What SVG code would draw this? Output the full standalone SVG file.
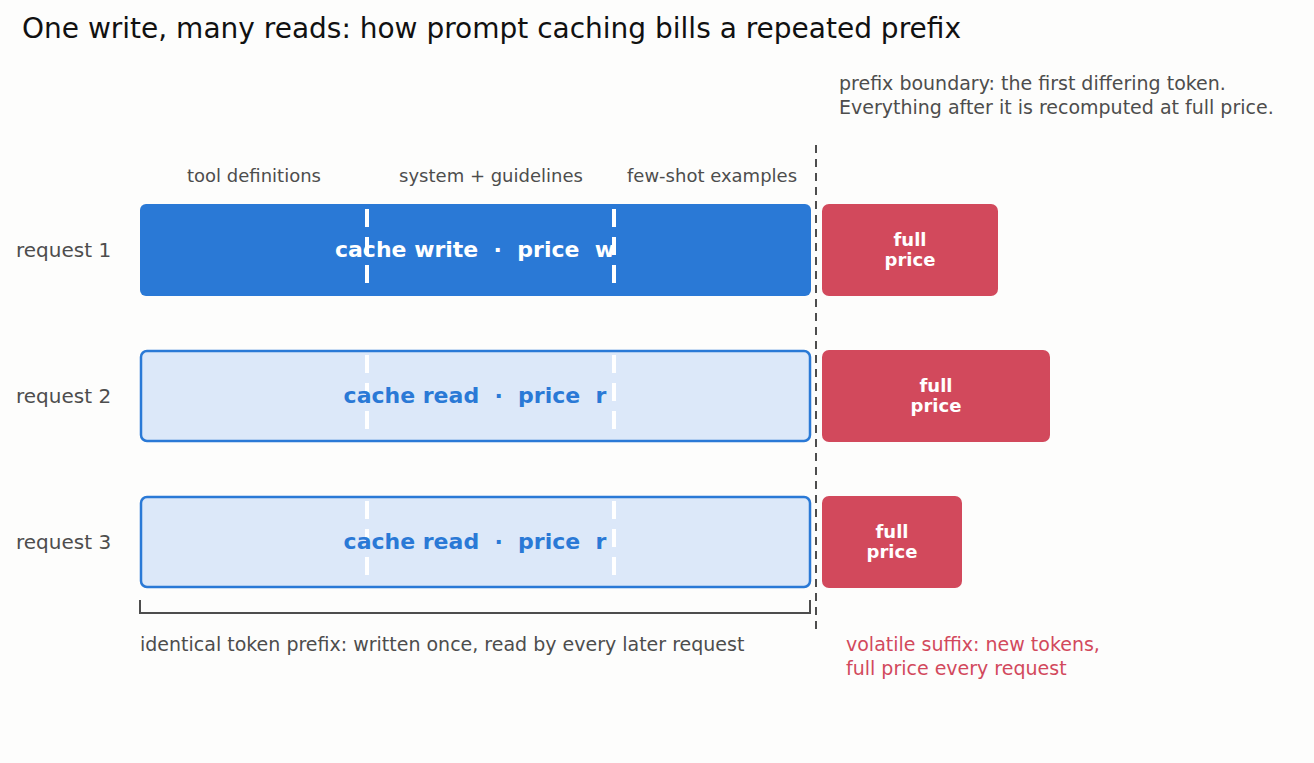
<svg xmlns="http://www.w3.org/2000/svg" width="1314" height="763" viewBox="0 0 1314 763">
<style>
text{font-family:"DejaVu Sans",sans-serif}
.lbl{fill:#4d4d4d;font-size:20px}
.col{fill:#4d4d4d;font-size:18px;text-anchor:middle}
.note{fill:#4d4d4d;font-size:19px}
.red{fill:#d2495c;font-size:19px}
.sep{stroke:#fff;stroke-width:4;stroke-dasharray:18 10}
.light{fill:#dce8f9;stroke:#2a79d6;stroke-width:2.5}
.sfx{fill:#d2495c}
.sfxt{fill:#fff;font-size:18px;font-weight:bold;text-anchor:middle}
.bt{font-size:22px;font-weight:bold;text-anchor:middle}
</style>
<rect width="1314" height="763" fill="#fdfdfc"/>
<text x="22" y="38" font-size="28" fill="#111">One write, many reads: how prompt caching bills a repeated prefix</text>
<text class="note" x="839" y="90">prefix boundary: the first differing token.</text>
<text class="note" x="839" y="114">Everything after it is recomputed at full price.</text>
<text class="col" x="254" y="182">tool definitions</text>
<text class="col" x="491" y="182">system + guidelines</text>
<text class="col" x="712" y="182">few-shot examples</text>
<g id="r1"><text class="lbl" x="16" y="257">request 1</text>
<rect x="140" y="204" width="671" height="92" rx="6" fill="#2a79d6"/>
<line class="sep" x1="367" y1="209" x2="367" y2="292"/><line class="sep" x1="614" y1="209" x2="614" y2="292"/>
<text class="bt" x="475" y="257" fill="#fff" xml:space="preserve">cache write  ·  price  w</text></g>
<g id="r2"><text class="lbl" x="16" y="403">request 2</text>
<rect class="light" x="141" y="351" width="669" height="90" rx="6"/>
<line class="sep" x1="367" y1="355" x2="367" y2="438"/><line class="sep" x1="614" y1="355" x2="614" y2="438"/>
<text class="bt" x="475" y="403" fill="#2a79d6" xml:space="preserve">cache read  ·  price  r</text></g>
<g id="r3"><text class="lbl" x="16" y="549">request 3</text>
<rect class="light" x="141" y="497" width="669" height="90" rx="6"/>
<line class="sep" x1="367" y1="501" x2="367" y2="584"/><line class="sep" x1="614" y1="501" x2="614" y2="584"/>
<text class="bt" x="475" y="549" fill="#2a79d6" xml:space="preserve">cache read  ·  price  r</text></g>
<g id="s1"><rect class="sfx" x="822" y="204" width="176" height="92" rx="7"/>
<text class="sfxt" x="910" y="246">full</text><text class="sfxt" x="910" y="266">price</text></g>
<g id="s2"><rect class="sfx" x="822" y="350" width="228" height="92" rx="7"/>
<text class="sfxt" x="936" y="392">full</text><text class="sfxt" x="936" y="412">price</text></g>
<g id="s3"><rect class="sfx" x="822" y="496" width="140" height="92" rx="7"/>
<text class="sfxt" x="892" y="538">full</text><text class="sfxt" x="892" y="558">price</text></g>
<g id="connectors">
<line x1="816" y1="145" x2="816" y2="633" stroke="#4d4d4d" stroke-width="2" stroke-dasharray="8 6"/>
<path d="M140 600V613H810V600" fill="none" stroke="#4d4d4d" stroke-width="2"/>
</g>
<text class="note" x="140" y="651">identical token prefix: written once, read by every later request</text>
<text class="red" x="846" y="651">volatile suffix: new tokens,</text>
<text class="red" x="846" y="675">full price every request</text>
</svg>
